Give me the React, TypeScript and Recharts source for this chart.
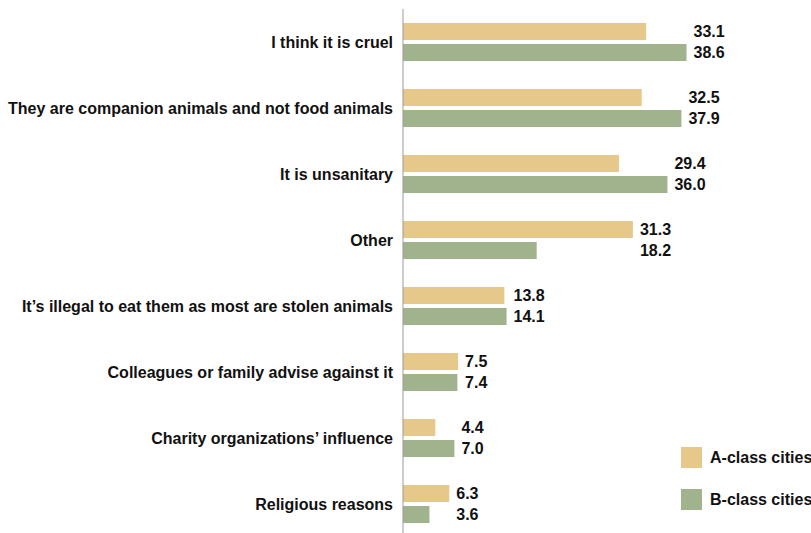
import { Bar, BarChart, LabelList, XAxis, YAxis } from "recharts";

const categories = [
  "I think it is cruel",
  "They are companion animals and not food animals",
  "It is unsanitary",
  "Other",
  "It\u2019s illegal to eat them as most are stolen animals",
  "Colleagues or family advise against it",
  "Charity organizations\u2019 influence",
  "Religious reasons",
];
const aClass = [33.1, 32.5, 29.4, 31.3, 13.8, 7.5, 4.4, 6.3];
const bClass = [38.6, 37.9, 36.0, 18.2, 14.1, 7.4, 7.0, 3.6];

const COLOR_A = "#e6c98a";
const COLOR_B = "#a0b38d";
const FONT = "'Liberation Sans', Arial, Helvetica, sans-serif";

const data = categories.map((name, i) => ({ name, a: aClass[i], b: bClass[i] }));

// label sits just past the longer bar of the pair
function makeLabel(own: number[], other: number[]) {
  return (props: any) => {
    const { x, y, width, height, index } = props;
    const v = own[index];
    const max = Math.max(v, other[index]);
    const end = x + (v ? (width / v) * max : 0);
    return (
      <text
        x={end + 7}
        y={y + height / 2}
        dy="0.36em"
        fontFamily={FONT}
        fontWeight={700}
        fontSize={16}
        fill="#111"
      >
        {v.toFixed(1)}
      </text>
    );
  };
}

function LegendBox() {
  const items = [
    { label: "A-class cities", color: COLOR_A },
    { label: "B-class cities", color: COLOR_B },
  ];
  return (
    <div style={{ position: "absolute", left: 681, top: 447, fontFamily: FONT }}>
      {items.map((it) => (
        <div key={it.label} style={{ display: "flex", alignItems: "center", height: 21, marginBottom: 21 }}>
          <span style={{ width: 21, height: 21, background: it.color, display: "inline-block" }} />
          <span style={{ marginLeft: 8, fontWeight: 700, fontSize: 16, color: "#111", whiteSpace: "nowrap" }}>
            {it.label}
          </span>
        </div>
      ))}
    </div>
  );
}

export default function App() {
  return (
    <div style={{ position: "absolute", left: 0, top: 0, width: 811, height: 533, overflow: "hidden", background: "#fff" }}>
      <BarChart
        width={811}
        height={545}
        data={data}
        layout="vertical"
        margin={{ top: 9, right: 4, left: 0, bottom: 8 }}
        barCategoryGap={14}
        barGap={4}
      >
        <XAxis type="number" domain={[0, 55]} hide />
        <YAxis
          type="category"
          dataKey="name"
          width={403}
          tickLine={false}
          axisLine={{ stroke: "#9a9a9a" }}
          tickMargin={4}
          tick={{ fontFamily: FONT, fontWeight: 700, fontSize: 16, fill: "#111" }}
          interval={0}
        />
        <Bar dataKey="a" fill={COLOR_A} barSize={17} isAnimationActive={false}>
          <LabelList content={makeLabel(aClass, bClass)} />
        </Bar>
        <Bar dataKey="b" fill={COLOR_B} barSize={17} isAnimationActive={false}>
          <LabelList content={makeLabel(bClass, aClass)} />
        </Bar>
      </BarChart>
      <LegendBox />
    </div>
  );
}
